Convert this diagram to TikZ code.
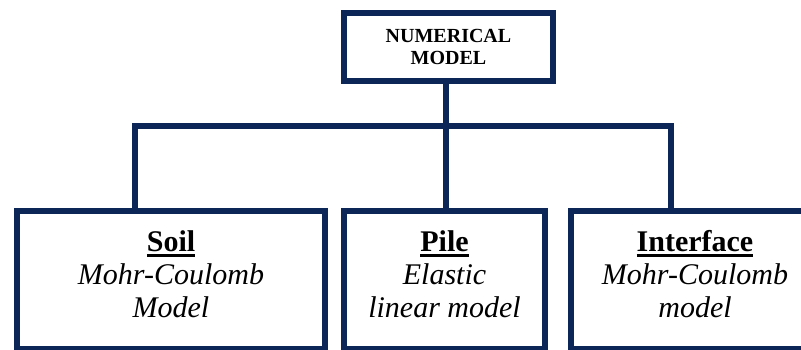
\documentclass[tikz,border=0pt]{standalone}
\usepackage{fontspec}
\setmainfont{LiberationSerif}[Extension=.ttf, UprightFont=*-Regular, BoldFont=*-Bold, ItalicFont=*-Italic, BoldItalicFont=*-BoldItalic]
\definecolor{navy}{RGB}{12,38,88}
\newcommand\myul[1]{\setbox0\hbox{#1}\rlap{\rule[-5.5pt]{\wd0}{2.6pt}}\box0}
\tikzset{
  boxstyle/.style={draw=navy, line width=6pt, fill=white, inner sep=0pt, align=center, anchor=north west},
  conn/.style={draw=navy, line width=6pt, line join=miter, line cap=rect},
  bigtext/.style={font=\fontsize{30}{33}\selectfont, text depth=12.5pt},
  toptext/.style={font=\bfseries\fontsize{20}{22}\selectfont}
}
\begin{document}
\begin{tikzpicture}[x=1pt,y=-1pt]
\useasboundingbox (0,0) rectangle (801,349);
\clip (0,0) rectangle (801,349);
\fill[white] (0,0) rectangle (801,349);
\coordinate (bl) at (135,126);
\coordinate (br) at (671,126);
% connectors
\draw[conn] (135,208) -- (bl) -- (br) -- (671,208);
\draw[conn] (445.5,78) -- (445.5,208);
% boxes
\node[boxstyle, toptext, minimum width=209pt, minimum height=68pt] (top) at (341,10) {NUMERICAL\\MODEL};
\node[boxstyle, bigtext, minimum width=308pt, minimum height=138pt] (soil) at (14,208)
  {\textbf{\myul{Soil}}\\\textit{Mohr-Coulomb}\\\textit{Model}};
\node[boxstyle, bigtext, minimum width=201pt, minimum height=138pt] (pile) at (341,208)
  {\textbf{\myul{Pile}}\\\textit{Elastic}\\\textit{linear model}};
\node[boxstyle, bigtext, minimum width=248pt, minimum height=138pt] (interface) at (568,208)
  {\textbf{\myul{Interface}}\\\textit{Mohr-Coulomb}\\\textit{model}};
\end{tikzpicture}
\end{document}
